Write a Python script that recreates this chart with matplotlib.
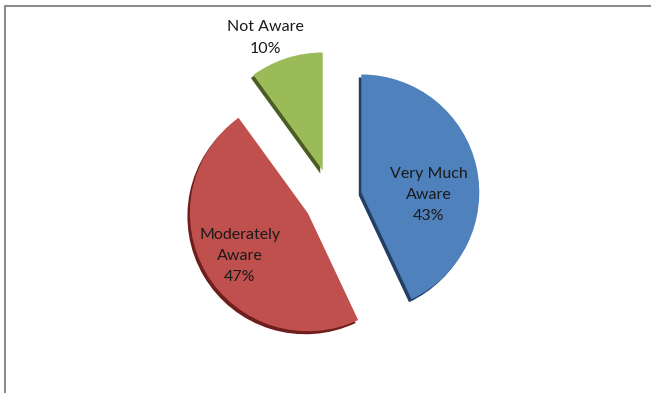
import matplotlib
matplotlib.use("Agg")
import matplotlib.pyplot as plt
from matplotlib.patches import Wedge

labels = ["Very Much\nAware", "Moderately\nAware", "Not Aware"]
values = [43, 47, 10]
colors = ["#4f81bd", "#c0504d", "#9bbb59"]
edge_colors = ["#223f63", "#6e1f1d", "#4b5c24"]
# label anchor points in pixel coords (y measured from top)
label_pos = [(429, 195), (240, 256), (265, 38)]

W, H = 651, 393
fig = plt.figure(figsize=(W / 100, H / 100), dpi=100)
ax = fig.add_axes([0, 0, 1, 1])

cx, cy, R = 332, H - 199, 118
# explode is an absolute offset in data units here
wedges, _ = ax.pie(values, colors=colors, startangle=90, counterclock=False,
                   explode=[30, 28, 30], radius=R, center=(cx, cy),
                   wedgeprops=dict(linewidth=0))

# darker copy under each slice gives the thin extruded rim
for w, ec in zip(wedges, edge_colors):
    x0, y0 = w.center
    rim = Wedge((x0 - 2.5, y0 - 3), w.r, w.theta1, w.theta2, color=ec, lw=0,
                zorder=w.get_zorder() - 0.5)
    ax.add_patch(rim)

for lab, v, (px, py) in zip(labels, values, label_pos):
    ax.text(px, H - py, f"{lab}\n{v}%", ha="center", va="center",
            multialignment="center", fontsize=11.5, family="Lato",
            color="#1a1a1a", linespacing=1.65)

ax.set_xlim(0, W)
ax.set_ylim(0, H)
ax.axis("off")

# chart area border (runs off the right and bottom)
ax.plot([5, 5, W], [0, H - 5.5, H - 5.5], color="#8c8c8c", lw=1.5,
        solid_joinstyle="miter", clip_on=False)

fig.savefig("out.png", dpi=100)
